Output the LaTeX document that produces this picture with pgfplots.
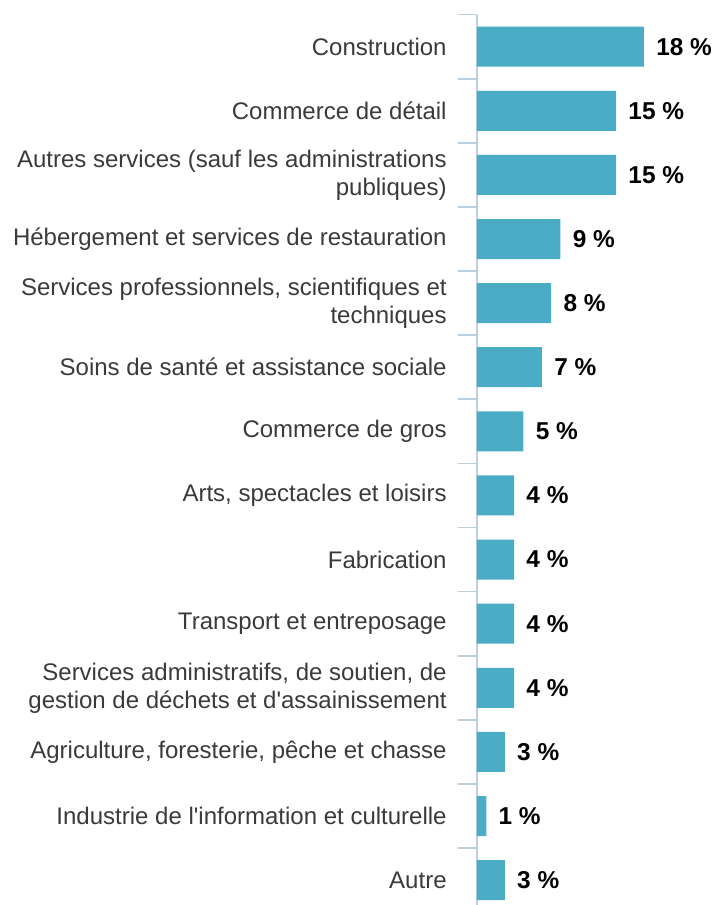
\documentclass[border=0pt]{standalone}
\usepackage{fontspec}
\setmainfont{Liberation Sans}
\usepackage{pgfplots}
\pgfplotsset{compat=1.18}
\definecolor{barcol}{HTML}{4BACC6}
\definecolor{axiscol}{HTML}{BCCFE3}
\definecolor{labcol}{HTML}{3A3A3A}

\begin{document}
\begin{tikzpicture}
\useasboundingbox (0,0) rectangle (358pt,452.5pt);
\begin{axis}[
    at={(238.5pt,445.2pt)}, anchor=north west,
    scale only axis,
    width=92.7pt, height=448.8pt,
    xbar, bar width=20pt,
    xmin=0, xmax=20,
    ymin=-0.5, ymax=13.5,
    y dir=reverse,
    clip=false,
    hide x axis,
    axis y line*=left,
    y axis line style={-, draw=axiscol, line width=0.8pt},
    ytick={0,...,13},
    major tick length=0pt,
    yticklabels={
        Construction,
        Commerce de détail,
        {Autres services (sauf les administrations\\publiques)},
        Hébergement et services de restauration,
        {Services professionnels, scientifiques et\\techniques},
        Soins de santé et assistance sociale,
        Commerce de gros,
        {Arts, spectacles et loisirs},
        Fabrication,
        Transport et entreposage,
        {Services administratifs, de soutien, de\\gestion de déchets et d\textquotesingle assainissement},
        {Agriculture, foresterie, pêche et chasse},
        Industrie de l\textquotesingle information et culturelle,
        Autre},
    yticklabel style={align=right, anchor=east, inner sep=0pt, xshift=-15pt,
        text=labcol, font=\fontsize{12}{14}\selectfont},
    extra y ticks={-0.5,0.5,...,12.5},
    extra y tick labels={},
    extra y tick style={major tick length=9.5pt, tick align=outside,
        tick style={draw=axiscol, line width=0.8pt}},
    nodes near coords={\pgfmathprintnumber{\pgfplotspointmeta}\ \%},
    /pgf/number format/assume math mode=true,
    every node near coord/.style={anchor=west, inner sep=0pt, xshift=6pt,
        font=\fontsize{12.2}{14}\selectfont\bfseries, text=black},
]
\addplot[fill=barcol, draw=none] coordinates {
    (18,0) (15,1) (15,2) (9,3) (8,4) (7,5) (5,6)
    (4,7) (4,8) (4,9) (4,10) (3,11) (1,12) (3,13)
};
\end{axis}
\end{tikzpicture}
\end{document}
